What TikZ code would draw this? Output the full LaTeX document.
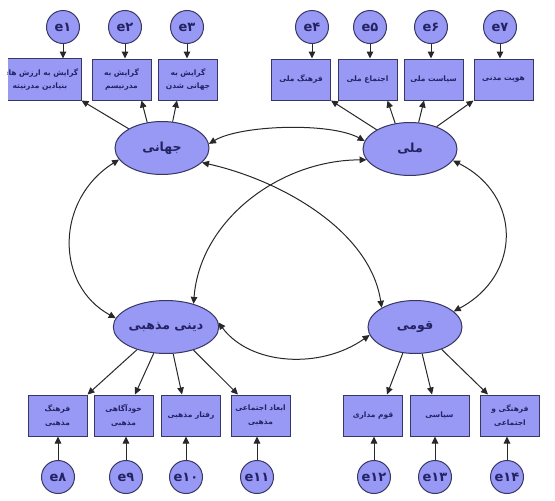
\documentclass[tikz,border=0pt]{standalone}
\usepackage{fontspec}
\usetikzlibrary{arrows.meta,shapes.geometric}
\TeXXeTstate=1
\newfontfamily\arabicfont[Script=Arabic]{DejaVu Sans}
\newcommand{\fa}[1]{{\arabicfont\beginR #1\endR}}
\definecolor{nodefill}{RGB}{152,152,245}
\definecolor{nodeline}{RGB}{55,55,100}
\definecolor{txtcol}{RGB}{35,35,100}
\definecolor{conncol}{RGB}{40,40,40}
\tikzset{
  latent/.style={ellipse, draw=nodeline, fill=nodefill, line width=1pt,
    minimum width=94pt, minimum height=53pt, inner sep=0pt,
    font=\arabicfont\bfseries\fontsize{12.5}{14}\selectfont, text=txtcol},
  obs/.style={rectangle, draw=nodeline, fill=nodefill, line width=1pt,
    minimum width=59pt, minimum height=41pt, inner sep=1pt, align=center,
    font=\arabicfont\bfseries\fontsize{7.5}{13.5}\selectfont, text=txtcol},
  boxtext/.style={font=\arabicfont\bfseries\fontsize{7.5}{13.5}\selectfont, text=txtcol},
  err/.style={circle, draw=nodeline, fill=nodefill, line width=1pt,
    minimum size=33pt, inner sep=0pt,
    font=\arabicfont\bfseries\fontsize{13}{15}\selectfont, text=txtcol},
  conarrow/.style={draw=conncol, line width=1pt, -{Triangle[length=7pt,width=6.5pt]}},
  cov/.style={draw=conncol, line width=1pt,
    {Triangle[length=7pt,width=6.5pt]}-{Triangle[length=7pt,width=6.5pt]}}
}
\begin{document}
\begin{tikzpicture}[x=1pt,y=-1pt]
\useasboundingbox[fill=white] (0,0) rectangle (555,501);
% latent variables
\node[latent] (G) at (162,148) {\fa{جهانی}};
\node[latent] (M) at (410,149) {\fa{ملی}};
\node[latent] (D) at (166,327) {\fa{دینی مذهبی}};
\node[latent] (Q) at (415,327) {\fa{قومی}};
% top-left boxes
\node[obs, draw=none, minimum width=73pt] (b1) at (44.5,79.5) {};
\draw[draw=nodeline, line width=1pt] (b1.north west) -- (b1.north east) -- (b1.south east) -- (b1.south west);
\begin{scope}
\clip (b1.south west) rectangle (b1.north east);
\node[boxtext, align=center, anchor=east, inner sep=0pt] (t1) at ([xshift=-3pt]b1.east) {\fa{گرایش به ارزش های}\\\fa{بنیادین مدرنیته}};
\end{scope}
\node[obs] (b2) at (121.5,79.5) {\fa{گرایش به}\\\fa{مدرنیسم}};
\node[obs] (b3) at (188,79.5) {\fa{گرایش به}\\\fa{جهانی شدن}};
% top-right boxes
\node[obs] (b4) at (301,79.5) {\fa{فرهنگ ملی}};
\node[obs] (b5) at (367.5,79.5) {\fa{اجتماع ملی}};
\node[obs] (b6) at (433.5,79.5) {\fa{سیاست ملی}};
\node[obs] (b7) at (503.5,79.5) {\fa{هویت مدنی}};
% bottom boxes
\node[obs] (b8) at (57.5,415.5) {\fa{فرهنگ}\\\fa{مذهبی}};
\node[obs] (b9) at (123.5,415.5) {\fa{خودآگاهی}\\\fa{مذهبی}};
\node[obs] (b10) at (191,415.5) {\fa{رفتار مذهبی}};
\node[obs] (b11) at (260.5,415.5) {\fa{ابعاد اجتماعی}\\\fa{مذهبی}};
\node[obs] (b12) at (373,415.5) {\fa{قوم مداری}};
\node[obs] (b13) at (439.5,415.5) {\fa{سیاسی}};
\node[obs] (b14) at (510,415.5) {\fa{فرهنگی و}\\\fa{اجتماعی}};
% error terms
\node[err] (e1) at (63,27) {e۱};
\node[err] (e2) at (125,27) {e۲};
\node[err] (e3) at (187,27) {e۳};
\node[err] (e4) at (312,27) {e۴};
\node[err] (e5) at (370,27) {e۵};
\node[err] (e6) at (431,27) {e۶};
\node[err] (e7) at (500,27) {e۷};
\node[err] (e8) at (58,477) {e۸};
\node[err] (e9) at (126,477) {e۹};
\node[err] (e10) at (186,477) {e۱۰};
\node[err] (e11) at (257,477) {e۱۱};
\node[err] (e12) at (374,477) {e۱۲};
\node[err] (e13) at (435,477) {e۱۳};
\node[err] (e14) at (507,477) {e۱۴};
% error arrows
\foreach \e/\b in {e1/b1,e2/b2,e3/b3,e4/b4,e5/b5,e6/b6,e7/b7}
  \draw[conarrow] (\e.south) -- (\e.south |- \b.north);
\foreach \e/\b in {e8/b8,e9/b9,e10/b10,e11/b11,e12/b12,e13/b13,e14/b14}
  \draw[conarrow] (\e.north) -- (\e.north |- \b.south);
% loadings
\draw[conarrow] (G.150) -- (b1.south east);
\draw[conarrow] (G.120) -- ([xshift=20pt]b2.south);
\draw[conarrow] (G.68) -- ([xshift=-11pt]b3.south);
\draw[conarrow] (M.150) -- (b4.south east);
\draw[conarrow] (M.120) -- ([xshift=20pt]b5.south);
\draw[conarrow] (M.72) -- ([xshift=-9.5pt]b6.south);
\draw[conarrow] (M.40) -- (b7.south west);
\draw[conarrow] (D.218) -- (b8.north east);
\draw[conarrow] (D.245) -- ([xshift=11.5pt]b9.north);
\draw[conarrow] (D.285) -- ([xshift=-9pt]b10.north);
\draw[conarrow] (D.320) -- ([xshift=-22.5pt]b11.north);
\draw[conarrow] (Q.245) -- ([xshift=14pt]b12.north);
\draw[conarrow] (Q.285) -- ([xshift=-7.5pt]b13.north);
\draw[conarrow] (Q.320) -- ([xshift=-22pt]b14.north);
% covariances
\draw[cov] (G.5) .. controls (240,125) and (330,122) .. (M.170);
\draw[cov] (G.-20) .. controls (280,180) and (370,230) .. (Q.150);
\draw[cov] (M.194) .. controls (280,160) and (200,220) .. (D.40);
\draw[cov] (G.195) .. controls (55,200) and (55,285) .. (D.170);
\draw[cov] (M.-15) .. controls (522,195) and (522,275) .. (Q.22);
\draw[cov] (D.5) .. controls (250,365) and (320,370) .. (Q.190);
\end{tikzpicture}
\end{document}
